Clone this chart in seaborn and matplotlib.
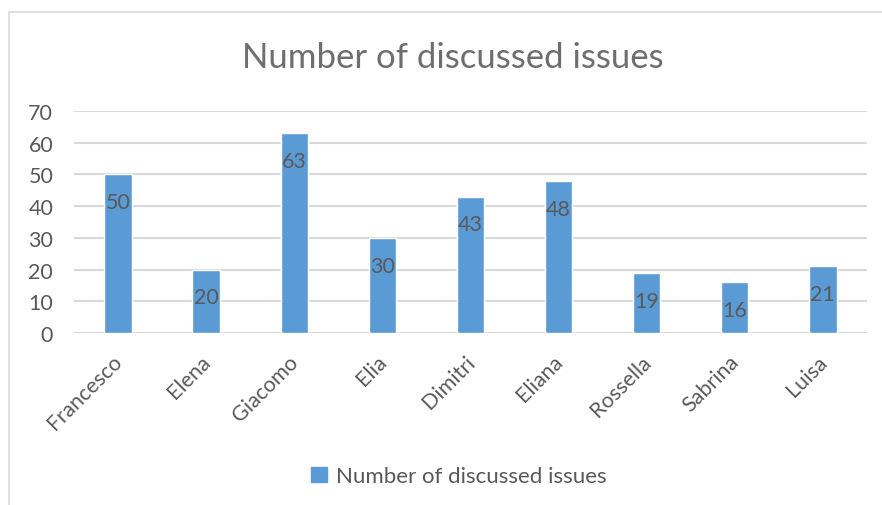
import pandas as pd
import matplotlib.pyplot as plt
import matplotlib.transforms as mtransforms
import seaborn as sns
from matplotlib.patches import Rectangle, Patch

# data
names = ['Francesco', 'Elena', 'Giacomo', 'Elia', 'Dimitri', 'Eliana',
         'Rossella', 'Sabrina', 'Luisa']
issues = [50, 20, 63, 30, 43, 48, 19, 16, 21]
yticks = [0, 10, 20, 30, 40, 50, 60, 70]

df = pd.DataFrame({'name': names, 'issues': issues})

sns.set_style('white')
plt.rcParams['font.family'] = ['Lato', 'DejaVu Sans']

grey = '#595959'
blue = '#5B9BD5'

fig = plt.figure(figsize=(8.82, 5.06), dpi=100)
ax = fig.add_axes([0.0839, 0.3399, 0.899, 0.4387])

sns.barplot(data=df, x='name', y='issues', color=blue, width=0.31,
            saturation=1, ax=ax, zorder=3)

ax.set_ylim(0, 70)
ax.set_xlim(-0.5, len(names) - 0.5)
ax.set_yticks(yticks)
ax.yaxis.grid(True, color='#D9D9D9', linewidth=1.5, zorder=0)
ax.set_axisbelow(True)
for s in ax.spines.values():
    s.set_visible(False)
ax.set_xlabel('')
ax.set_ylabel('')
ax.tick_params(axis='y', length=0, pad=15, labelsize=15.5, labelcolor=grey)
ax.tick_params(axis='x', length=0, pad=13, labelsize=15.5, labelcolor=grey)
shift = mtransforms.ScaledTranslation(-6 / 100, 0, fig.dpi_scale_trans)
for lab in ax.get_xticklabels():
    lab.set_rotation(45)
    lab.set_ha('right')
    lab.set_rotation_mode('anchor')
    lab.set_transform(lab.get_transform() + shift)

# data labels inside end
for i, v in enumerate(issues):
    ax.annotate(str(v), (i, v), xytext=(0, -20), textcoords='offset points',
                ha='center', va='center', fontsize=15.5, color=grey, zorder=4)

# title
fig.text(0.513, 0.885, 'Number of discussed issues', ha='center',
         va='center', fontsize=25, color='#6e6e6e')

# legend
fig.legend(handles=[Patch(color=blue, label='Number of discussed issues')],
           loc='center', bbox_to_anchor=(0.52, 0.057), frameon=False,
           fontsize=16, labelcolor=grey, handlelength=0.7, handleheight=0.7,
           handletextpad=0.4)

# chart border
fig.patches.append(Rectangle((9 / 882, -0.1), 1.0, 1 - 13 / 506 + 0.1,
                             transform=fig.transFigure, fill=False,
                             edgecolor='#D9D9D9', linewidth=1.2))

fig.savefig('out.png', dpi=100)
